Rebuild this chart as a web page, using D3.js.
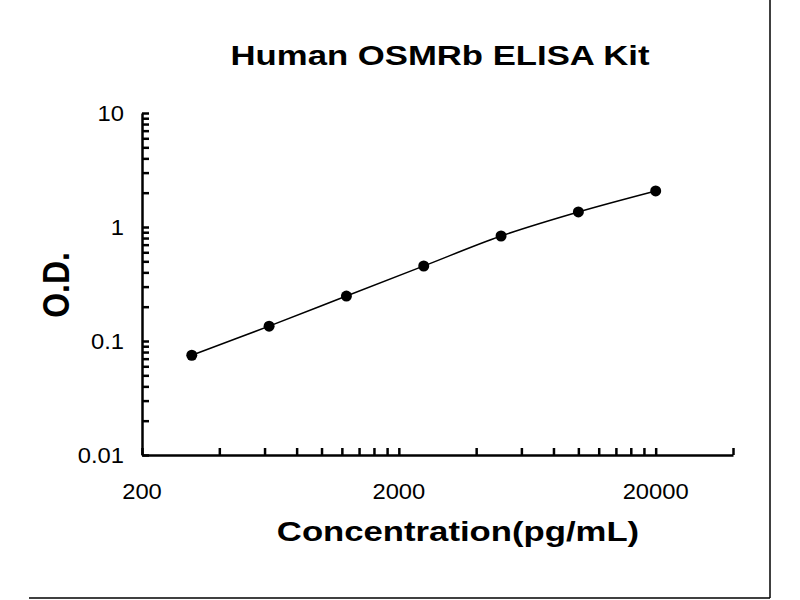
<!DOCTYPE html>
<html lang='en'>
	<head>
		<meta charset='utf-8'>
		<title>Human OSMRb ELISA Kit</title>
		<script type='text/javascript' src='https://cdn.jsdelivr.net/npm/d3@7/dist/d3.min.js'></script>
		<style>
			body { margin: 0; background: white; }
			svg { display: block; }
			.axis path, .axis line { stroke: black; stroke-width: 2.5px; }
			text { font-family: Arial, 'Liberation Sans', sans-serif; fill: black; }
		</style>
	</head>
	<body>
		<script type='text/javascript'>
			// standard curve points
			var conc = [312.5, 625, 1250, 2500, 5000, 10000, 20000];
			var od = [0.075, 0.135, 0.248, 0.455, 0.834, 1.355, 2.07];

			var xTickLabels = ['200', '2000', '20000'];
			var yTickLabels = ['0.01', '0.1', '1', '10'];

			var title = 'Human OSMRb ELISA Kit';
			var xTitle = 'Concentration(pg/mL)';
			var yTitle = 'O.D.';

			var width = 800, height = 600;
			var stretch = 1.24;   // picture is wider than the original chart

			var svg = d3.select('body').append('svg')
				.attr('width', width)
				.attr('height', height);

			var x = d3.scaleLog().domain([200, 40000]).range([142, 733]);
			var y = d3.scaleLog().domain([0.01, 10]).range([455, 113]);

			// excel style minor ticks: multiples of the decade start
			var xTicks = [];
			[200, 2000, 20000].forEach(function(b){
				for (var k = 1; k <= 9; k++) if (b*k <= 40000) xTicks.push(b*k);
			});
			var yTicks = [];
			[0.01, 0.1, 1].forEach(function(b){
				for (var k = 1; k <= 9; k++) yTicks.push(+(b*k).toPrecision(3));
			});
			yTicks.push(10);

			svg.append('g').attr('class', 'axis')
				.attr('transform', 'translate(0,455)')
				.call(d3.axisTop(x).tickValues(xTicks).tickSize(7).tickSizeOuter(0).tickFormat(''));

			svg.append('g').attr('class', 'axis')
				.attr('transform', 'translate(142,0)')
				.call(d3.axisRight(y).tickValues(yTicks).tickSize(7).tickSizeOuter(0).tickFormat(''));

			function stretchedText(tx, ty, s, size, weight, anchor, sx) {
				return svg.append('text')
					.attr('transform', 'translate(' + tx + ',' + ty + ') scale(' + sx + ',1)')
					.attr('text-anchor', anchor)
					.attr('font-size', size)
					.attr('font-weight', weight)
					.text(s);
			}

			xTickLabels.forEach(function(d){
				stretchedText(x(+d), 499, d, 22, 'normal', 'middle', 1.08);
			});
			yTickLabels.forEach(function(d){
				stretchedText(124, y(+d) + 8, d, 22, 'normal', 'end', 1.08);
			});

			stretchedText(440, 65, title, 28, 'bold', 'middle', stretch);
			stretchedText(458, 541, xTitle, 28, 'bold', 'middle', stretch);

			svg.append('text')
				.attr('transform', 'translate(69,285) scale(1.15,1) rotate(-90)')
				.attr('text-anchor', 'middle')
				.attr('font-size', 32)
				.attr('font-weight', 'bold')
				.text(yTitle);

			var pts = conc.map(function(c, i){ return [c, od[i]]; });

			var line = d3.line()
				.x(function(d){ return x(d[0]); })
				.y(function(d){ return y(d[1]); })
				.curve(d3.curveCatmullRom);

			svg.append('path')
				.datum(pts)
				.attr('d', line)
				.attr('fill', 'none')
				.attr('stroke', 'black')
				.attr('stroke-width', 1.5);

			svg.append('g').selectAll('circle')
				.data(pts)
				.enter().append('circle')
					.attr('cx', function(d){ return x(d[0]); })
					.attr('cy', function(d){ return y(d[1]); })
					.attr('r', 5.5)
					.attr('fill', 'black');

			// frame edges of the original picture
			svg.append('line')
				.attr('x1', 770).attr('x2', 770).attr('y1', 0).attr('y2', 598)
				.attr('stroke', 'black').attr('stroke-width', 1.5);
			svg.append('line')
				.attr('x1', 29).attr('x2', 770).attr('y1', 598).attr('y2', 598)
				.attr('stroke', 'black').attr('stroke-width', 1.5);
		</script>
	</body>
</html>
